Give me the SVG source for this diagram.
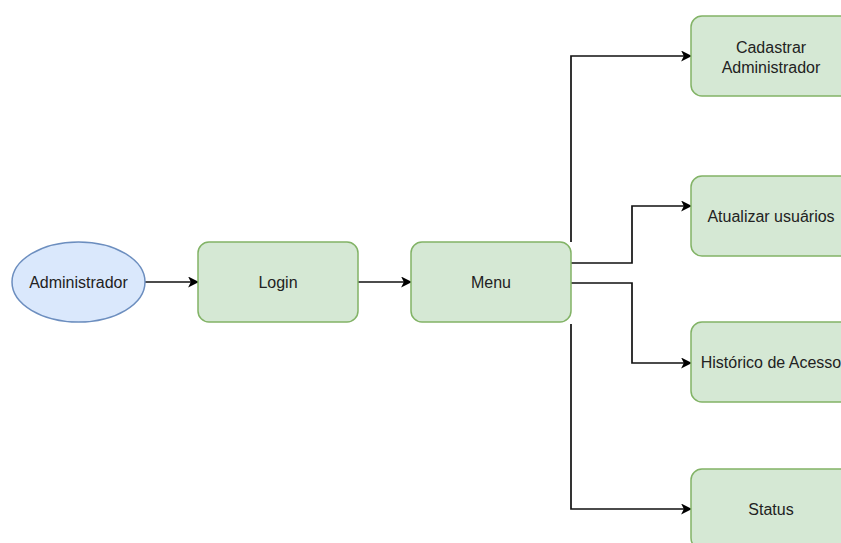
<svg xmlns="http://www.w3.org/2000/svg" width="841" height="543" viewBox="0 0 841 543">
<style>
.box{fill:#d5e8d4;stroke:#82b366;stroke-width:1.5}
.ell{fill:#dae8fc;stroke:#6c8ebf;stroke-width:1.5}
.t{font-family:"Liberation Sans",Arial,sans-serif;font-size:16px;fill:#222;text-anchor:middle;dominant-baseline:central}
.c{fill:none;stroke:#111;stroke-width:1.7;marker-end:url(#a)}
</style>
<defs>
<marker id="a" viewBox="0 0 10 10" refX="9" refY="5" markerWidth="11" markerHeight="11" markerUnits="userSpaceOnUse" orient="auto">
<path d="M0,0 L10,5 L0,10 L2.5,5 Z" fill="#000"/>
</marker>
</defs>
<rect width="841" height="543" fill="#fff"/>
<g id="connectors">
<path class="c" d="M145,282 H198"/>
<path class="c" d="M358,282 H411"/>
<path class="c" d="M571,242 V56 H691"/>
<path class="c" d="M571,263 H632 V206 H691"/>
<path class="c" d="M571,283 H632 V363 H691"/>
<path class="c" d="M571,324 V509 H691"/>
</g>
<g id="administrador"><ellipse class="ell" cx="78.5" cy="282" rx="66.5" ry="40"/><text class="t" x="78.5" y="282">Administrador</text></g>
<g id="login"><rect class="box" x="198" y="242" width="160" height="80" rx="11"/><text class="t" x="278" y="282">Login</text></g>
<g id="menu"><rect class="box" x="411" y="242" width="160" height="80" rx="11"/><text class="t" x="491" y="282">Menu</text></g>
<g id="cadastrar"><rect class="box" x="691" y="16" width="160" height="80" rx="11"/><text class="t" x="771" y="47">Cadastrar</text><text class="t" x="771" y="67">Administrador</text></g>
<g id="atualizar"><rect class="box" x="691" y="176" width="160" height="80" rx="11"/><text class="t" x="771" y="216">Atualizar usuários</text></g>
<g id="historico"><rect class="box" x="691" y="322" width="160" height="80" rx="11"/><text class="t" x="771" y="362">Histórico de Acesso</text></g>
<g id="status"><rect class="box" x="691" y="469" width="160" height="80" rx="11"/><text class="t" x="771" y="509">Status</text></g>
</svg>
